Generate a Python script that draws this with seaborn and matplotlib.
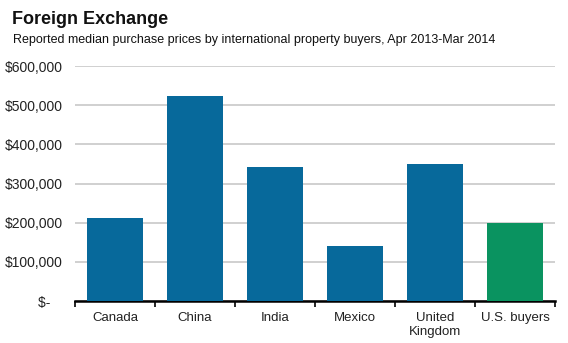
import matplotlib
matplotlib.use("Agg")
import matplotlib.pyplot as plt
from matplotlib.ticker import FixedLocator
import seaborn as sns
import pandas as pd

categories = ["Canada", "China", "India", "Mexico", "United\nKingdom", "U.S. buyers"]
prices = [212000, 523000, 342000, 140000, 349000, 199000]
bar_colors = ["#07699b", "#07699b", "#07699b", "#07699b", "#07699b", "#0a9360"]
y_ticks = [0, 100000, 200000, 300000, 400000, 500000, 600000]
y_labels = ["$-   ", "$100,000", "$200,000", "$300,000", "$400,000", "$500,000", "$600,000"]

sns.set_theme(style="white")
plt.rcParams["font.family"] = ["Liberation Sans", "DejaVu Sans"]

df = pd.DataFrame({"category": categories, "price": prices})

fig = plt.figure(figsize=(5.68, 3.43), dpi=100)
ax = fig.add_axes([75 / 568, 1 - 301 / 343, 480 / 568, (301 - 66) / 343])

sns.barplot(data=df, x="category", y="price", hue="category", palette=bar_colors,
            width=0.71, legend=False, saturation=1, linewidth=0, ax=ax, zorder=3)

ax.set_ylim(0, 600000)
ax.set_xlim(-0.5, 5.5)
ax.set_yticks(y_ticks)
ax.set_yticklabels(y_labels, fontsize=10, color="#222222")
ax.tick_params(axis="y", length=0, pad=9)
ax.tick_params(axis="x", which="major", length=0, pad=8, labelsize=9.5, labelcolor="#222222")
ax.xaxis.set_minor_locator(FixedLocator([-0.5, 0.5, 1.5, 2.5, 3.5, 4.5, 5.5]))
ax.tick_params(axis="x", which="minor", length=4, width=1.2, color="black", direction="out", bottom=True)
ax.set_xlabel("")
ax.set_ylabel("")

ax.yaxis.grid(True, color="#c8c8c8", linewidth=1.2, zorder=0)
ax.set_axisbelow(True)
for side in ["top", "right", "left"]:
    ax.spines[side].set_visible(False)
ax.spines["bottom"].set_color("black")
ax.spines["bottom"].set_linewidth(1.8)

fig.text(12 / 568, 1 - 19 / 343, "Foreign Exchange", fontsize=13, fontweight="bold",
         va="center", ha="left", color="#111111")
fig.text(13 / 568, 1 - 40 / 343,
         "Reported median purchase prices by international property buyers, Apr 2013-Mar 2014",
         fontsize=9, va="center", ha="left", color="#111111")

fig.savefig("out.png", dpi=100)
